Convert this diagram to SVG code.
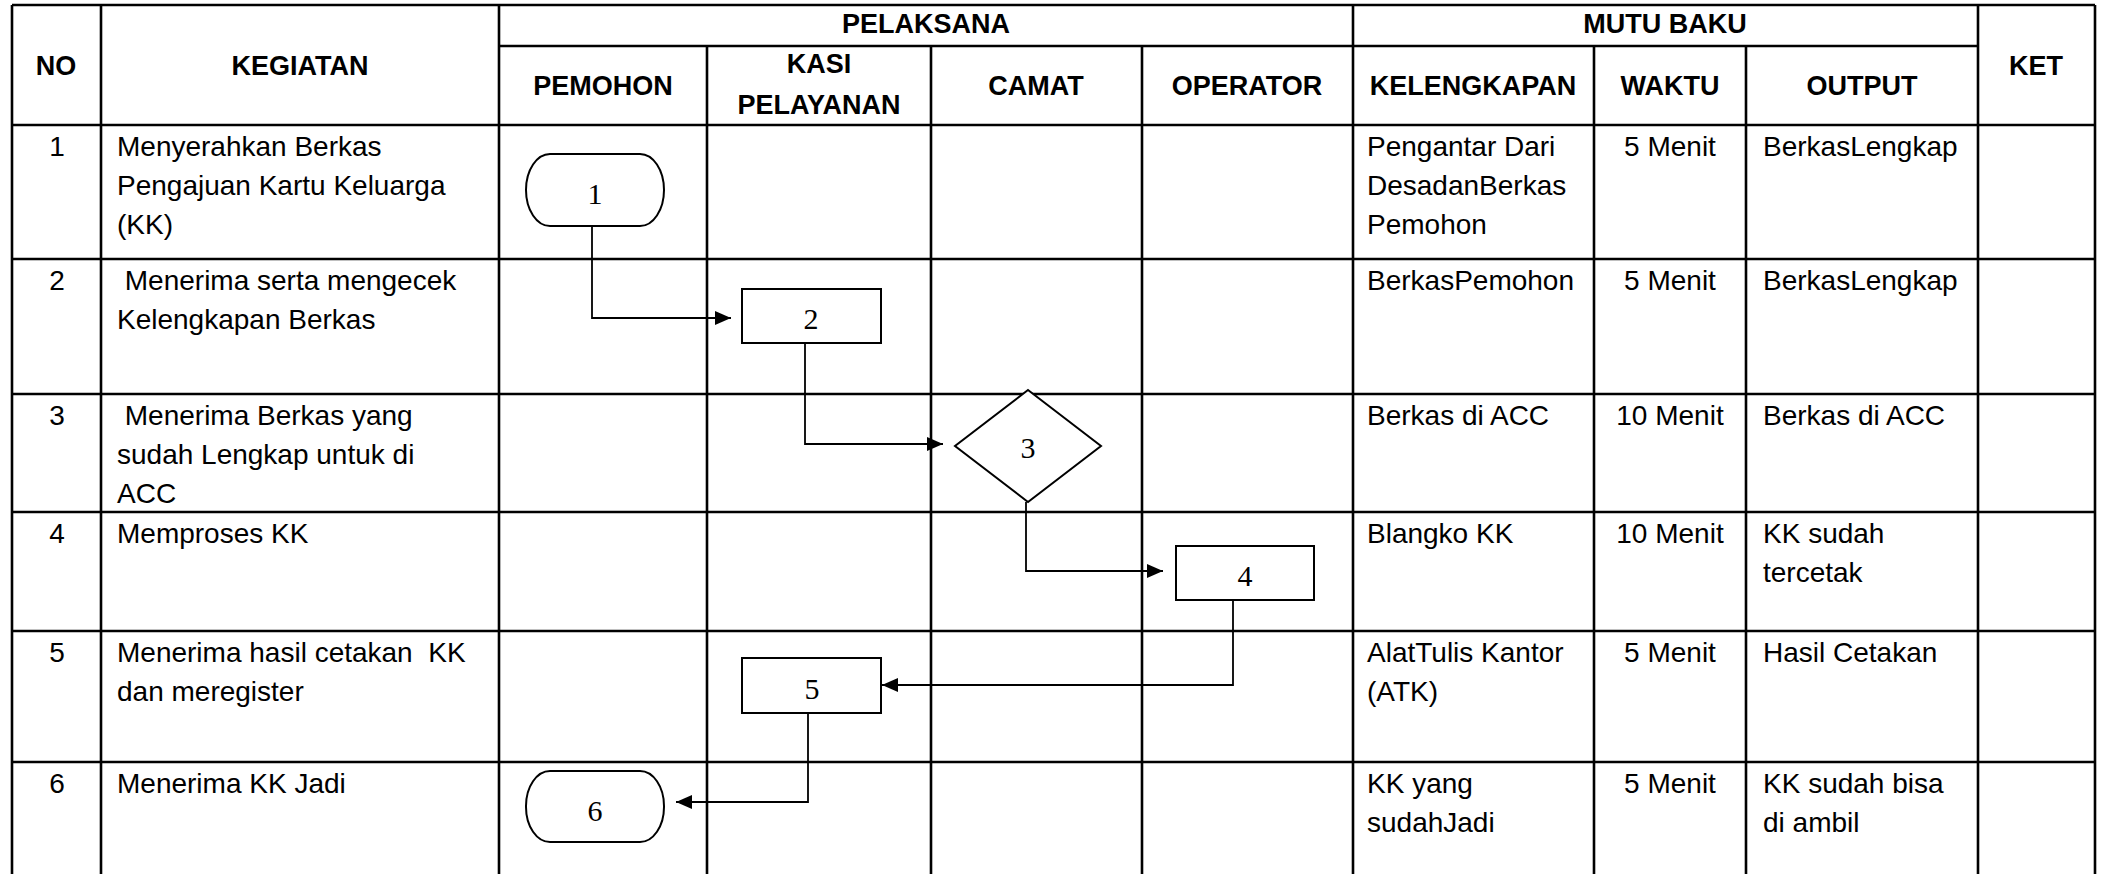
<svg xmlns="http://www.w3.org/2000/svg" width="2105" height="874" viewBox="0 0 2105 874">
<style>
.grid line{stroke:#000;stroke-width:2.6}
.h{font-family:"Liberation Sans",Arial,sans-serif;font-weight:bold;font-size:27px;fill:#000;text-anchor:middle}
.t{font-family:"Liberation Sans",Arial,sans-serif;font-size:28px;fill:#000;white-space:pre}
.c{text-anchor:middle}
.shape{fill:#fff;stroke:#000;stroke-width:2}
.num{font-family:"Liberation Serif","Times New Roman",serif;font-size:30px;fill:#000;text-anchor:middle}
.conn path{fill:none;stroke:#000;stroke-width:1.8}
</style>
<defs>
<marker id="arr" markerUnits="userSpaceOnUse" markerWidth="16" markerHeight="14" refX="16" refY="7" orient="auto">
<path d="M0,0 L16,7 L0,14 z" fill="#000"/>
</marker>
</defs>
<rect width="2105" height="874" fill="#fff"/>
<g id="table" class="grid">
<line x1="12" y1="5" x2="2095" y2="5"/>
<line x1="499" y1="46" x2="1978" y2="46"/>
<line x1="12" y1="125" x2="2095" y2="125"/>
<line x1="12" y1="259" x2="2095" y2="259"/>
<line x1="12" y1="394" x2="2095" y2="394"/>
<line x1="12" y1="512" x2="2095" y2="512"/>
<line x1="12" y1="631" x2="2095" y2="631"/>
<line x1="12" y1="762" x2="2095" y2="762"/>
<line x1="12" y1="5" x2="12" y2="874"/>
<line x1="101" y1="5" x2="101" y2="874"/>
<line x1="499" y1="5" x2="499" y2="874"/>
<line x1="707" y1="46" x2="707" y2="874"/>
<line x1="931" y1="46" x2="931" y2="874"/>
<line x1="1142" y1="46" x2="1142" y2="874"/>
<line x1="1353" y1="5" x2="1353" y2="874"/>
<line x1="1594" y1="46" x2="1594" y2="874"/>
<line x1="1746" y1="46" x2="1746" y2="874"/>
<line x1="1978" y1="5" x2="1978" y2="874"/>
<line x1="2095" y1="5" x2="2095" y2="874"/>
</g>
<g id="header">
<text class="h" x="56" y="75">NO</text>
<text class="h" x="300" y="75">KEGIATAN</text>
<text class="h" x="926" y="33">PELAKSANA</text>
<text class="h" x="1665" y="33">MUTU BAKU</text>
<text class="h" x="2036" y="75">KET</text>
<text class="h" x="603" y="95">PEMOHON</text>
<text class="h" x="819" y="73">KASI</text>
<text class="h" x="819" y="114">PELAYANAN</text>
<text class="h" x="1036" y="95">CAMAT</text>
<text class="h" x="1247" y="95">OPERATOR</text>
<text class="h" x="1473" y="95">KELENGKAPAN</text>
<text class="h" x="1670" y="95">WAKTU</text>
<text class="h" x="1862" y="95">OUTPUT</text>
</g>
<g id="rows">
<text class="t c" x="57" y="156">1</text>
<text class="t" x="117" y="156">Menyerahkan Berkas</text>
<text class="t" x="117" y="195">Pengajuan Kartu Keluarga</text>
<text class="t" x="117" y="234">(KK)</text>
<text class="t" x="1367" y="156">Pengantar Dari</text>
<text class="t" x="1367" y="195">DesadanBerkas</text>
<text class="t" x="1367" y="234">Pemohon</text>
<text class="t c" x="1670" y="156">5 Menit</text>
<text class="t" x="1763" y="156">BerkasLengkap</text>

<text class="t c" x="57" y="290">2</text>
<text class="t" x="117" y="290" xml:space="preserve"> Menerima serta mengecek</text>
<text class="t" x="117" y="329">Kelengkapan Berkas</text>
<text class="t" x="1367" y="290">BerkasPemohon</text>
<text class="t c" x="1670" y="290">5 Menit</text>
<text class="t" x="1763" y="290">BerkasLengkap</text>

<text class="t c" x="57" y="425">3</text>
<text class="t" x="117" y="425" xml:space="preserve"> Menerima Berkas yang</text>
<text class="t" x="117" y="464">sudah Lengkap untuk di</text>
<text class="t" x="117" y="503">ACC</text>
<text class="t" x="1367" y="425">Berkas di ACC</text>
<text class="t c" x="1670" y="425">10 Menit</text>
<text class="t" x="1763" y="425">Berkas di ACC</text>

<text class="t c" x="57" y="543">4</text>
<text class="t" x="117" y="543">Memproses KK</text>
<text class="t" x="1367" y="543">Blangko KK</text>
<text class="t c" x="1670" y="543">10 Menit</text>
<text class="t" x="1763" y="543">KK sudah</text>
<text class="t" x="1763" y="582">tercetak</text>

<text class="t c" x="57" y="662">5</text>
<text class="t" x="117" y="662" xml:space="preserve">Menerima hasil cetakan  KK</text>
<text class="t" x="117" y="701">dan meregister</text>
<text class="t" x="1367" y="662">AlatTulis Kantor</text>
<text class="t" x="1367" y="701">(ATK)</text>
<text class="t c" x="1670" y="662">5 Menit</text>
<text class="t" x="1763" y="662">Hasil Cetakan</text>

<text class="t c" x="57" y="793">6</text>
<text class="t" x="117" y="793">Menerima KK Jadi</text>
<text class="t" x="1367" y="793">KK yang</text>
<text class="t" x="1367" y="832">sudahJadi</text>
<text class="t c" x="1670" y="793">5 Menit</text>
<text class="t" x="1763" y="793">KK sudah bisa</text>
<text class="t" x="1763" y="832">di ambil</text>
</g>
<g id="connectors" class="conn">
<path d="M592,226 V318 H731" marker-end="url(#arr)"/>
<path d="M805,343 V444 H943" marker-end="url(#arr)"/>
<path d="M1026,502 V571 H1163" marker-end="url(#arr)"/>
<path d="M1233,600 V685 H882" marker-end="url(#arr)"/>
<path d="M808,713 V802 H676" marker-end="url(#arr)"/>
</g>
<g id="node1">
<rect class="shape" x="526" y="154" width="138" height="72" rx="24" ry="36"/>
<text class="num" x="595" y="204">1</text>
</g>
<g id="node2">
<rect class="shape" x="742" y="289" width="139" height="54"/>
<text class="num" x="811" y="329">2</text>
</g>
<g id="node3">
<polygon class="shape" points="1028,390 1101,446 1028,502 955,446"/>
<text class="num" x="1028" y="458">3</text>
</g>
<g id="node4">
<rect class="shape" x="1176" y="546" width="138" height="54"/>
<text class="num" x="1245" y="586">4</text>
</g>
<g id="node5">
<rect class="shape" x="742" y="658" width="139" height="55"/>
<text class="num" x="812" y="699">5</text>
</g>
<g id="node6">
<rect class="shape" x="526" y="771" width="138" height="71" rx="24" ry="35"/>
<text class="num" x="595" y="821">6</text>
</g>
</svg>
